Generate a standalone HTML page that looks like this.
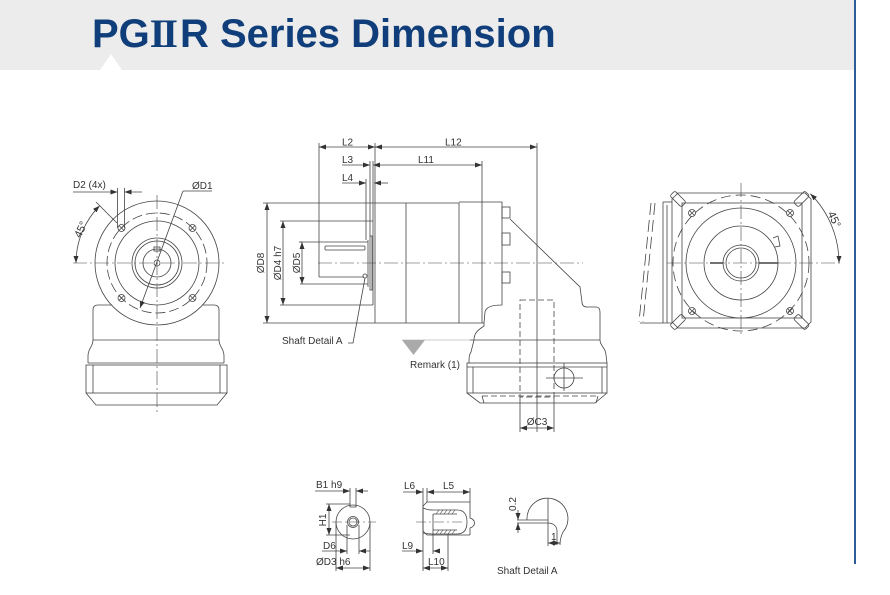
<!DOCTYPE html>
<html><head><meta charset="utf-8"><style>
html,body{margin:0;padding:0;background:#fff;}
svg{display:block;}
text{font-family:"Liberation Sans",Arial,sans-serif;fill:#333;font-size:10px;}
</style></head><body>
<svg width="890" height="595" viewBox="0 0 890 595" xmlns="http://www.w3.org/2000/svg">
<defs>
<marker id="a" markerUnits="userSpaceOnUse" markerWidth="8" markerHeight="6" refX="7" refY="2.5" orient="auto-start-reverse"><path d="M0,0 L7,2.5 L0,5 z" fill="#333"/></marker>
</defs>
<!-- header -->
<rect x="0" y="0" width="855" height="70" fill="#ececec"/>
<polygon points="100,70 111,54 122,70" fill="#fff"/>
<line x1="855" y1="0" x2="855" y2="564" stroke="#2c5d98" stroke-width="2"/>
<text x="92" y="47" style="font-size:40px;font-weight:bold;fill:#0f3e7a">PG<tspan style="font-family:'Liberation Serif',serif">I</tspan><tspan dx="-3" style="font-family:'Liberation Serif',serif">I</tspan><tspan dx="2">R Series Dimension</tspan></text>

<g fill="none" stroke="#444" stroke-width="0.8">
<!-- ============ LEFT VIEW ============ -->
<path d="M93,340 L93,310 Q93,305 98,305 L214,305 Q219,305 219,310 L219,340"/>
<line x1="93" y1="340" x2="219" y2="340"/>
<path d="M93,340 C93,347 88,348 88,356 L88,363 M219,340 C219,347 224,348 224,356 L224,363"/>
<line x1="88" y1="363" x2="224" y2="363"/>
<rect x="86" y="365" width="141" height="28"/>
<line x1="93" y1="365" x2="93" y2="393"/><line x1="220" y1="365" x2="220" y2="393"/>
<path d="M86,393 L96,405 L217,405 L227,393"/>
<circle cx="157" cy="263" r="62" fill="#fff"/>
<circle cx="157" cy="263" r="50" stroke-dasharray="10 4"/>
<circle cx="157" cy="263" r="42"/>
<circle cx="157" cy="263" r="25"/>
<circle cx="157" cy="263" r="22"/>
<circle cx="157" cy="263" r="14"/>
<rect x="154" y="247" width="6" height="4"/>
<circle cx="157" cy="263" r="3"/>
<g>
<circle cx="121.5" cy="228" r="3.5"/><path d="M119,225.5 L124,230.5 M119,230.5 L124,225.5"/>
<circle cx="192.5" cy="228" r="3.5"/><path d="M190,225.5 L195,230.5 M190,230.5 L195,225.5"/>
<circle cx="121.5" cy="298" r="3.5"/><path d="M119,295.5 L124,300.5 M119,300.5 L124,295.5"/>
<circle cx="192.5" cy="298" r="3.5"/><path d="M190,295.5 L195,300.5 M190,300.5 L195,295.5"/>
</g>
<g stroke-width="0.6" stroke-dasharray="14 3 2 3">
<line x1="73" y1="263" x2="226" y2="263"/>
<line x1="157" y1="195" x2="157" y2="412"/>
</g>
<!-- D2 -->
<path d="M73,192 L117.5,192" marker-end="url(#a)"/>
<path d="M142,192 L124.5,192" marker-end="url(#a)"/>
<line x1="117.5" y1="188" x2="117.5" y2="228"/>
<line x1="124.5" y1="188" x2="124.5" y2="228"/>
<!-- D1 -->
<path d="M183,191 L140,308" marker-end="url(#a)"/>
<line x1="183" y1="191" x2="212" y2="191"/>
<!-- 45 -->
<path d="M76,263 A81,81 0 0 1 99.7,205.7" marker-start="url(#a)" marker-end="url(#a)"/>
<line x1="117" y1="223" x2="96" y2="202"/>

<!-- ============ MIDDLE VIEW ============ -->
<!-- dims -->
<path d="M319,147 L375,147" marker-start="url(#a)" marker-end="url(#a)"/>
<path d="M375,147 L537,147" marker-start="url(#a)" marker-end="url(#a)"/>
<path d="M342,165 L370,165" marker-end="url(#a)"/>
<path d="M373,165 L482,165" marker-start="url(#a)" marker-end="url(#a)"/>
<path d="M342,183 L366,183" marker-end="url(#a)"/>
<path d="M388,183 L374,183" marker-end="url(#a)"/>
<line x1="319" y1="143" x2="319" y2="277"/>
<line x1="375" y1="143" x2="375" y2="323"/>
<line x1="537" y1="143" x2="537" y2="432"/>
<line x1="370" y1="161" x2="370" y2="236"/>
<line x1="373" y1="161" x2="373" y2="305"/>
<line x1="482" y1="161" x2="482" y2="323"/>
<line x1="366" y1="179" x2="366" y2="240"/>
<!-- body -->
<path d="M375,203 L459,203 L459,323 L375,323"/>
<line x1="406" y1="203" x2="406" y2="323"/>
<path d="M459,202 L502,202 L502,305 C495,305 486,306 485,312 L484,323 L459,323"/>
<rect x="502" y="207" width="8" height="11"/>
<rect x="502" y="233" width="8" height="12"/>
<rect x="502" y="272" width="8" height="11"/>
<path d="M484,323 L484,326 C478,330 474,333 474,340 L471,352 C469,355 469,358 469,363"/>
<path d="M510,219 L580,287 L582,302 Q582,307 587,307 L596,307 Q600,307 600,312 L600,340 C600,346 606,348 606,355 L607,363"/>
<line x1="470" y1="340" x2="600" y2="340"/>
<rect x="467" y="363" width="140" height="30"/>
<line x1="467" y1="367" x2="607" y2="367"/>
<line x1="473" y1="367" x2="473" y2="393"/>
<line x1="602" y1="367" x2="602" y2="393"/>
<path d="M467,393 L480,403 L595,403 L607,393"/>
<path d="M482,396 L598,396" stroke-dasharray="6 3"/>
<path d="M482,396 L484,403 M598,396 L596,403"/>
<rect x="520" y="300" width="34" height="97" stroke-dasharray="6 3"/>
<circle cx="564" cy="378" r="10"/>
<line x1="546" y1="378" x2="583" y2="378"/>
<line x1="564" y1="363" x2="564" y2="391"/>
<!-- shaft -->
<line x1="300" y1="242" x2="368" y2="242"/>
<line x1="300" y1="284" x2="368" y2="284"/>
<line x1="319" y1="277" x2="364" y2="277"/>
<rect x="325" y="246" width="40" height="4" rx="1"/>
<line x1="368" y1="240" x2="368" y2="287"/>
<rect x="370" y="236" width="2" height="54"/>
<circle cx="365" cy="276" r="2"/>
<path d="M365,278 L353,343 L348,343"/>
<!-- vertical dims -->
<line x1="263" y1="203" x2="375" y2="203"/>
<line x1="263" y1="323" x2="375" y2="323"/>
<path d="M267,203 L267,323" marker-start="url(#a)" marker-end="url(#a)"/>
<line x1="280" y1="221" x2="373" y2="221"/>
<line x1="280" y1="305" x2="373" y2="305"/>
<path d="M283,221 L283,305" marker-start="url(#a)" marker-end="url(#a)"/>
<line x1="299" y1="242" x2="302" y2="242"/>
<path d="M302,242 L302,284" marker-start="url(#a)" marker-end="url(#a)"/>
<line x1="318" y1="263" x2="583" y2="263" stroke-width="0.6" stroke-dasharray="14 3 2 3"/>
<!-- C3 -->
<line x1="520" y1="397" x2="520" y2="432"/>
<line x1="554" y1="397" x2="554" y2="432"/>
<path d="M520,428 L554,428" marker-start="url(#a)" marker-end="url(#a)"/>

<!-- ============ RIGHT VIEW ============ -->
<line x1="663" y1="202" x2="663" y2="323"/>
<line x1="667" y1="205" x2="667" y2="323"/>
<line x1="663" y1="202" x2="672" y2="202"/>
<line x1="640" y1="323" x2="672" y2="323"/>
<path d="M655,203 L643,322 M651,203 L639,322" stroke-dasharray="12 5"/>
<polygon points="678,193 805,193 811,199 811,322 805,328 678,328 672,322 672,199"/>
<rect x="682" y="203" width="120" height="115"/>
<rect x="670" y="195.5" width="16" height="7" rx="2" transform="rotate(45 678 199)"/>
<rect x="793.5" y="195.5" width="16" height="7" rx="2" transform="rotate(-45 801.5 199)"/>
<rect x="670" y="318.5" width="16" height="7" rx="2" transform="rotate(-45 678 322)"/>
<rect x="793.5" y="318.5" width="16" height="7" rx="2" transform="rotate(45 801.5 322)"/>
<circle cx="741" cy="263" r="68" stroke-dasharray="10 5"/>
<circle cx="741" cy="263" r="55"/>
<circle cx="741" cy="263" r="37"/>
<line x1="710" y1="263" x2="778" y2="263" stroke-width="1.6"/>
<circle cx="741" cy="263" r="18" fill="#fff"/>
<circle cx="741" cy="263" r="15"/>
<path d="M773,238 L778,236 L780,246 L775,247"/>
<g>
<circle cx="692" cy="213" r="3.5"/><path d="M689.5,210.5 L694.5,215.5 M689.5,215.5 L694.5,210.5"/>
<circle cx="790" cy="213" r="3.5"/><path d="M787.5,210.5 L792.5,215.5 M787.5,215.5 L792.5,210.5"/>
<circle cx="692" cy="311" r="3.5"/><path d="M689.5,308.5 L694.5,313.5 M689.5,313.5 L694.5,308.5"/>
<circle cx="790" cy="311" r="3.5"/><path d="M787.5,308.5 L792.5,313.5 M787.5,313.5 L792.5,308.5"/>
</g>
<g stroke-width="0.6" stroke-dasharray="14 3 2 3">
<line x1="667" y1="263" x2="842" y2="263"/>
<line x1="741" y1="183" x2="741" y2="334"/>
</g>
<path d="M810.3,193.7 A98,98 0 0 1 839,263" marker-start="url(#a)" marker-end="url(#a)"/>

<!-- ============ DETAIL 1 ============ -->
<circle cx="353" cy="522" r="17"/>
<circle cx="353" cy="522" r="5.5"/>
<circle cx="353" cy="522" r="4"/>
<path d="M350,488 L350,507 L356,507 L356,488"/>
<path d="M315,491 L350,491" marker-end="url(#a)"/>
<path d="M368,491 L356,491" marker-end="url(#a)"/>
<line x1="326" y1="504" x2="350" y2="504"/>
<line x1="326" y1="535" x2="350" y2="535"/>
<path d="M329,504 L329,535" marker-start="url(#a)" marker-end="url(#a)"/>
<line x1="347" y1="525" x2="347" y2="554"/>
<line x1="359" y1="525" x2="359" y2="554"/>
<path d="M322,551 L347,551" marker-end="url(#a)"/>
<path d="M370,551 L359,551" marker-end="url(#a)"/>
<line x1="336" y1="522" x2="336" y2="571"/>
<line x1="370" y1="522" x2="370" y2="571"/>
<path d="M336,568 L370,568" marker-start="url(#a)" marker-end="url(#a)"/>
<g stroke-width="0.6" stroke-dasharray="10 3 2 3">
<line x1="332" y1="522" x2="376" y2="522"/>
</g>

<!-- ============ DETAIL 2 ============ -->
<path d="M403,492 L423,492" marker-end="url(#a)"/>
<path d="M427,492 L470,492" marker-start="url(#a)" marker-end="url(#a)"/>
<line x1="423" y1="488" x2="423" y2="571"/>
<line x1="427" y1="488" x2="427" y2="502"/>
<line x1="470" y1="488" x2="470" y2="502"/>
<path d="M470,502 L427,502 L423,506 L423,531 L427,535 L470,535"/>
<path d="M470,502 L470,518 C476,520 476,526 470,528 L470,535"/>
<path d="M423,508 C428,510 430,510 433,510 L457,510 M423,533 C428,534 430,534 433,534 L457,534"/>
<path d="M433,514 L457,514 M433,530 L457,530 M433,514 L433,530"/>
<path d="M457,510 Q467,510 467,522 Q467,534 457,534"/>
<path d="M436,514 L439,510 M440,514 L443,510 M444,514 L447,510 M448,514 L451,510 M452,514 L455,510 M436,534 L439,530 M440,534 L443,530 M444,534 L447,530 M448,534 L451,530 M452,534 L455,530" stroke-width="0.6"/>
<line x1="416" y1="522" x2="463" y2="522" stroke-width="0.6" stroke-dasharray="10 3 2 3"/>
<path d="M402,551 L423,551" marker-end="url(#a)"/>
<path d="M438,551 L433,551" marker-end="url(#a)"/>
<line x1="433" y1="530" x2="433" y2="554"/>
<line x1="448" y1="534" x2="448" y2="571"/>
<path d="M423,568 L448,568" marker-start="url(#a)" marker-end="url(#a)"/>

<!-- ============ DETAIL A ============ -->
<path d="M527,520 A20.5,20.5 0 1 1 563,532 C561,536 560,540 560,545"/>
<line x1="517" y1="520" x2="548" y2="520"/>
<path d="M517,523 L548,523 C553,523 557,526 557,531 L557,545"/>
<line x1="548" y1="498" x2="548" y2="546"/>
<path d="M548,543 L560,543" marker-start="url(#a)" marker-end="url(#a)"/>
<path d="M518,510 L518,520" marker-end="url(#a)"/>
<path d="M518,533 L518,523" marker-end="url(#a)"/>
</g>

<!-- gray remark -->
<line x1="402" y1="340" x2="470" y2="340" stroke="#bbb" stroke-width="0.8"/>
<polygon points="402,340 425,340 413.5,355" fill="#aaa"/>

<!-- ============ TEXT ============ -->
<text x="73" y="188">D2 (4x)</text>
<text x="192" y="189">ØD1</text>
<text transform="translate(84,231) rotate(-65)" text-anchor="middle" style="font-size:11px">45°</text>
<text x="342" y="145.5">L2</text>
<text x="445" y="145.5">L12</text>
<text x="342" y="163">L3</text>
<text x="418" y="163">L11</text>
<text x="342" y="181">L4</text>
<text transform="translate(264,263) rotate(-90)" text-anchor="middle">ØD8</text>
<text transform="translate(281,263) rotate(-90)" text-anchor="middle">ØD4 h7</text>
<text transform="translate(300,263) rotate(-90)" text-anchor="middle">ØD5</text>
<text x="282" y="344">Shaft Detail  A</text>
<text x="410" y="368">Remark (1)</text>
<text x="537" y="425" text-anchor="middle">ØC3</text>
<text transform="translate(831,221) rotate(65)" text-anchor="middle" style="font-size:11px">45°</text>
<text x="316" y="488">B1 h9</text>
<text transform="translate(326,520) rotate(-90)" text-anchor="middle">H1</text>
<text x="323" y="549">D6</text>
<text x="316" y="565">ØD3 h6</text>
<text x="404" y="489">L6</text>
<text x="443" y="489">L5</text>
<text x="402" y="549">L9</text>
<text x="428" y="565">L10</text>
<text transform="translate(516,504) rotate(-90)" text-anchor="middle">0.2</text>
<text x="551" y="540">1</text>
<text x="497" y="574">Shaft  Detail  A</text>
</svg>
</body></html>
